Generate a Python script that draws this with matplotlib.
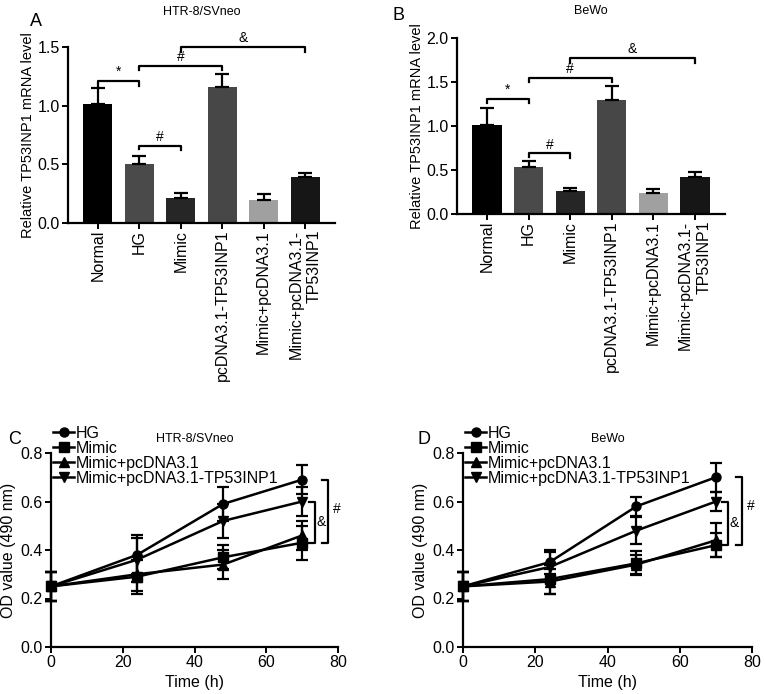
import matplotlib.pyplot as plt
from matplotlib.lines import Line2D
import numpy as np

plt.rcParams['font.family'] = ['Liberation Sans', 'DejaVu Sans']

# bar panels
groups = ['Normal', 'HG', 'Mimic', 'pcDNA3.1-TP53INP1', 'Mimic+pcDNA3.1', 'Mimic+pcDNA3.1-\nTP53INP1']
bar_colors = ['#000000', '#4a4a4a', '#262626', '#474747', '#a0a0a0', '#161616']
a_mean = [1.01, 0.50, 0.21, 1.16, 0.20, 0.39]
a_err = [0.14, 0.075, 0.045, 0.11, 0.045, 0.04]
b_mean = [1.01, 0.53, 0.26, 1.30, 0.24, 0.42]
b_err = [0.19, 0.07, 0.035, 0.16, 0.04, 0.06]

# line panels
time_h = [0, 24, 48, 70]
c_hg = [0.25, 0.38, 0.59, 0.69]
c_hg_err = [0.06, 0.08, 0.07, 0.06]
c_mimic = [0.25, 0.29, 0.37, 0.43]
c_mimic_err = [0.06, 0.07, 0.05, 0.07]
c_pc = [0.25, 0.30, 0.34, 0.46]
c_pc_err = [0.06, 0.07, 0.06, 0.06]
c_tp = [0.25, 0.36, 0.52, 0.60]
c_tp_err = [0.06, 0.09, 0.07, 0.06]

d_hg = [0.25, 0.35, 0.58, 0.70]
d_hg_err = [0.06, 0.05, 0.04, 0.06]
d_mimic = [0.25, 0.28, 0.345, 0.42]
d_mimic_err = [0.06, 0.06, 0.05, 0.05]
d_pc = [0.25, 0.27, 0.34, 0.44]
d_pc_err = [0.06, 0.05, 0.04, 0.07]
d_tp = [0.25, 0.33, 0.48, 0.60]
d_tp_err = [0.06, 0.06, 0.055, 0.04]

W, H = 765, 694
fig = plt.figure(figsize=(W / 100, H / 100), dpi=100)


def box(l, t, r, b):
    return [l / W, 1 - b / H, (r - l) / W, (b - t) / H]


def style(ax):
    ax.spines['top'].set_visible(False)
    ax.spines['right'].set_visible(False)
    ax.spines['left'].set_linewidth(1.6)
    ax.spines['bottom'].set_linewidth(1.6)
    ax.tick_params(width=1.4, length=4, labelsize=11.5, pad=2)


def bars(ax, mean, err, ymax, brackets, ylab_step):
    x = np.arange(len(groups))
    ax.bar(x, mean, width=0.7, color=bar_colors, zorder=2)
    ax.errorbar(x, mean, yerr=[np.zeros(len(err)), err], fmt='none', ecolor='black',
                elinewidth=1.6, capsize=5, capthick=1.6, zorder=3)
    ax.set_xlim(-0.72, 5.72)
    ax.set_ylim(0, ymax)
    ax.set_yticks(np.arange(0, ymax + 0.01, ylab_step))
    ax.set_xticks(x)
    ax.set_xticklabels(groups, rotation=90, fontsize=11, linespacing=1.3, multialignment='right')
    ax.set_ylabel('Relative TP53INP1 mRNA level', fontsize=10.5, labelpad=2)
    style(ax)
    ax.tick_params(axis='x', pad=1)
    for i, j, h, dl, dr, lab in brackets:
        ax.plot([i, i, j, j], [h - dl, h, h, h - dr], color='black', lw=1.6, clip_on=False)
        ax.text((i + j) / 2, h + ymax * 0.01, lab, ha='center', va='bottom', fontsize=10)


axA = fig.add_axes(box(68, 47, 335, 223))
bars(axA, a_mean, a_err, 1.5,
     [(0, 1, 1.21, 0.04, 0.04, '*'), (1, 3, 1.34, 0.04, 0.04, '#'),
      (2, 5, 1.50, 0.04, 0.04, '&'), (1, 2, 0.66, 0.03, 0.04, '#')], 0.5)
axA.set_title('HTR-8/SVneo', fontsize=9, pad=23)
fig.text(30 / W, 1 - 21 / H, 'A', fontsize=13, va='center')

axB = fig.add_axes(box(457, 38, 725, 214))
bars(axB, b_mean, b_err, 2.0,
     [(0, 1, 1.31, 0.05, 0.05, '*'), (1, 3, 1.55, 0.05, 0.05, '#'),
      (2, 5, 1.77, 0.05, 0.05, '&'), (1, 2, 0.69, 0.04, 0.05, '#')], 0.5)
axB.set_title('BeWo', fontsize=9, pad=17)
fig.text(393 / W, 1 - 15 / H, 'B', fontsize=13, va='center')


def lines(ax, series, amp_x, hash_x, top_hg, top_tp, low):
    marks = ['o', 's', '^', 'v']
    labs = ['HG', 'Mimic', 'Mimic+pcDNA3.1', 'Mimic+pcDNA3.1-TP53INP1']
    for (m, e), mk in zip(series, marks):
        ax.errorbar(time_h, m, yerr=e, color='black', marker=mk, ms=6.5, lw=1.8,
                    elinewidth=1.6, capsize=4, capthick=1.6, clip_on=False)
    ax.set_xlim(0, 80)
    ax.set_ylim(0, 0.8)
    ax.set_xticks([0, 20, 40, 60, 80])
    ax.set_yticks([0.0, 0.2, 0.4, 0.6, 0.8])
    ax.set_yticklabels(['0.0', '0.2', '0.4', '0.6', '0.8'])
    ax.set_xlabel('Time (h)', fontsize=11.5, labelpad=3)
    ax.set_ylabel('OD value (490 nm)', fontsize=11.5, labelpad=3)
    style(ax)
    s = 1.6
    ax.plot([amp_x - s, amp_x, amp_x, amp_x - s], [top_tp, top_tp, low, low], color='black', lw=1.6, clip_on=False)
    ax.text(amp_x + 0.3, (top_tp + low) / 2, '&', ha='left', va='center', fontsize=10)
    ax.plot([hash_x - s, hash_x, hash_x, hash_x - s], [top_hg, top_hg, low, low], color='black', lw=1.6, clip_on=False)
    ax.text(hash_x + 1.5, top_hg - 0.12, '#', ha='left', va='center', fontsize=10)
    handles = [Line2D([], [], color='black', marker=mk, ms=6.5, lw=1.8) for mk in marks]
    ax.legend(handles, labs, loc='upper left', bbox_to_anchor=(0.008, 1.14), frameon=False, fontsize=11.5,
              handlelength=1.3, handletextpad=0.1, labelspacing=0.0, borderpad=0, borderaxespad=0)


axC = fig.add_axes(box(51, 453, 338, 647))
lines(axC, [(c_hg, c_hg_err), (c_mimic, c_mimic_err), (c_pc, c_pc_err), (c_tp, c_tp_err)],
      73.6, 77.2, 0.69, 0.60, 0.43)
axC.set_title('HTR-8/SVneo', fontsize=9, pad=8)
fig.text(8 / W, 1 - 440 / H, 'C', fontsize=13, va='center')

axD = fig.add_axes(box(463, 453, 752, 647))
lines(axD, [(d_hg, d_hg_err), (d_mimic, d_mimic_err), (d_pc, d_pc_err), (d_tp, d_tp_err)],
      73.4, 77.2, 0.70, 0.60, 0.42)
axD.set_title('BeWo', fontsize=9, pad=8)
fig.text(418 / W, 1 - 440 / H, 'D', fontsize=13, va='center')

fig.savefig('out.png', dpi=100)
